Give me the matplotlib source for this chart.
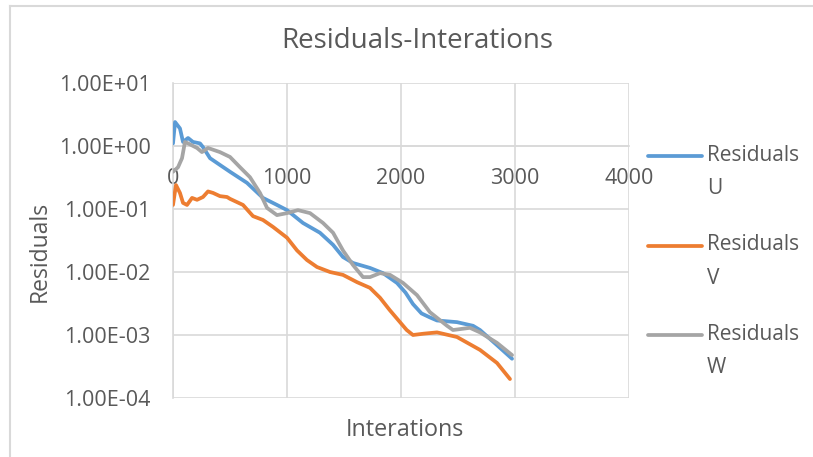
import matplotlib.pyplot as plt
from matplotlib.lines import Line2D
from matplotlib.ticker import FixedLocator, FixedFormatter

# residual history per velocity component
iter_u = [0, 18, 61, 88, 132, 175, 237, 263, 325, 412, 500, 649, 789, 912, 1000,
          1140, 1289, 1404, 1491, 1579, 1728, 1842, 1965, 2040, 2105, 2180, 2254,
          2316, 2491, 2632, 2693, 2842, 2974]
res_u = [1.1, 2.4, 1.9, 1.16, 1.34, 1.16, 1.1, 0.96, 0.64, 0.5, 0.39, 0.26, 0.15,
         0.116, 0.096, 0.060, 0.042, 0.027, 0.0173, 0.0139, 0.0116, 0.0096, 0.0067,
         0.0047, 0.0031, 0.0022, 0.0019, 0.0017, 0.0016, 0.0014, 0.0012, 0.00069,
         0.00042]

iter_v = [0, 26, 61, 88, 123, 167, 211, 263, 307, 351, 412, 474, 500, 614, 702,
          789, 877, 1000, 1088, 1175, 1263, 1377, 1491, 1614, 1728, 1816, 1900,
          1991, 2050, 2105, 2200, 2316, 2491, 2693, 2842, 2956]
res_v = [0.116, 0.24, 0.18, 0.125, 0.116, 0.15, 0.14, 0.155, 0.19, 0.18, 0.16,
         0.155, 0.145, 0.116, 0.077, 0.067, 0.052, 0.035, 0.022, 0.0155, 0.012,
         0.010, 0.009, 0.0069, 0.0056, 0.0039, 0.0025, 0.0016, 0.0012, 0.001,
         0.00105, 0.0011, 0.00093, 0.00058, 0.00036, 0.0002]

iter_w = [0, 44, 79, 105, 132, 211, 254, 307, 412, 500, 588, 675, 763, 825, 912,
          1000, 1096, 1202, 1316, 1404, 1491, 1579, 1667, 1728, 1816, 1904, 2018,
          2140, 2254, 2404, 2456, 2605, 2693, 2842, 2974]
res_w = [0.39, 0.46, 0.64, 1.16, 1.1, 0.93, 0.8, 0.93, 0.8, 0.67, 0.46, 0.32, 0.18,
         0.104, 0.080, 0.086, 0.096, 0.086, 0.060, 0.042, 0.022, 0.0129, 0.0083,
         0.0083, 0.0096, 0.0090, 0.0067, 0.0043, 0.0023, 0.0014, 0.0012, 0.0013,
         0.0011, 0.00075, 0.00048]

series = [('Residuals\nU', iter_u, res_u, '#5B9BD5'),
          ('Residuals\nV', iter_v, res_v, '#ED7D31'),
          ('Residuals\nW', iter_w, res_w, '#A5A5A5')]

x_ticks = [0, 1000, 2000, 3000, 4000]
y_ticks = [1e-4, 1e-3, 1e-2, 1e-1, 1e0, 1e1]
y_labels = ['1.00E-04', '1.00E-03', '1.00E-02', '1.00E-01', '1.00E+00', '1.00E+01']

txt = '#595959'
grid = '#D9D9D9'
plt.rcParams['font.family'] = ['Open Sans', 'DejaVu Sans']

W, H = 813, 457
fig = plt.figure(figsize=(W / 100, H / 100), dpi=100)
ax = fig.add_axes([173 / W, 1 - 398 / H, (629 - 173) / W, (398 - 83) / H])

for name, xs, ys, c in series:
    ax.plot(xs, ys, color=c, lw=2.7, solid_capstyle='round', solid_joinstyle='round', zorder=3)

ax.set_yscale('log')
ax.set_xlim(0, 4000)
ax.set_ylim(1e-4, 1e1)
ax.xaxis.set_major_locator(FixedLocator(x_ticks))
ax.yaxis.set_major_locator(FixedLocator(y_ticks))
ax.yaxis.set_major_formatter(FixedFormatter(y_labels))
ax.yaxis.set_minor_locator(FixedLocator([]))
ax.grid(True, color=grid, lw=1.2, zorder=0)
ax.set_axisbelow(True)

# horizontal axis crosses the log axis at 1.0
for s in ['top', 'right']:
    ax.spines[s].set_visible(False)
ax.spines['bottom'].set_position(('data', 1.0))
ax.spines['bottom'].set_color(grid)
ax.spines['bottom'].set_linewidth(1.2)
ax.spines['left'].set_color(grid)
ax.spines['left'].set_linewidth(1.2)
ax.tick_params(axis='both', length=0, colors=txt, labelsize=15.5)
ax.tick_params(axis='y', pad=16)
ax.tick_params(axis='x', pad=16)

fig.text(417 / W, 1 - 41 / H, 'Residuals-Interations',
         ha='center', va='center', fontsize=20, color=txt)
fig.text(405 / W, 1 - 430 / H, 'Interations',
         ha='center', va='center', fontsize=16.8, color=txt)
fig.text(40 / W, 1 - 251 / H, 'Residuals', rotation=90,
         ha='center', va='center', fontsize=16.5, color=txt)

# legend on the right, handle aligned with the first text line
for k, (name, xs, ys, c) in enumerate(series):
    y = 156 + k * 89.5
    fig.add_artist(Line2D([648 / W, 702 / W], [1 - y / H, 1 - y / H], color=c, lw=2.7,
                          solid_capstyle='round'))
    fig.text(707 / W, 1 - (y - 11) / H, name, ha='left', va='top', fontsize=15,
             color=txt, linespacing=1.75)

# chart frame
fig.add_artist(Line2D([10 / W, 10 / W], [0, 1 - 6 / H], color='#D9D9D9', lw=1.5))
fig.add_artist(Line2D([10 / W, 1], [1 - 6 / H, 1 - 6 / H], color='#D9D9D9', lw=1.5))

fig.savefig('out.png', dpi=100)
